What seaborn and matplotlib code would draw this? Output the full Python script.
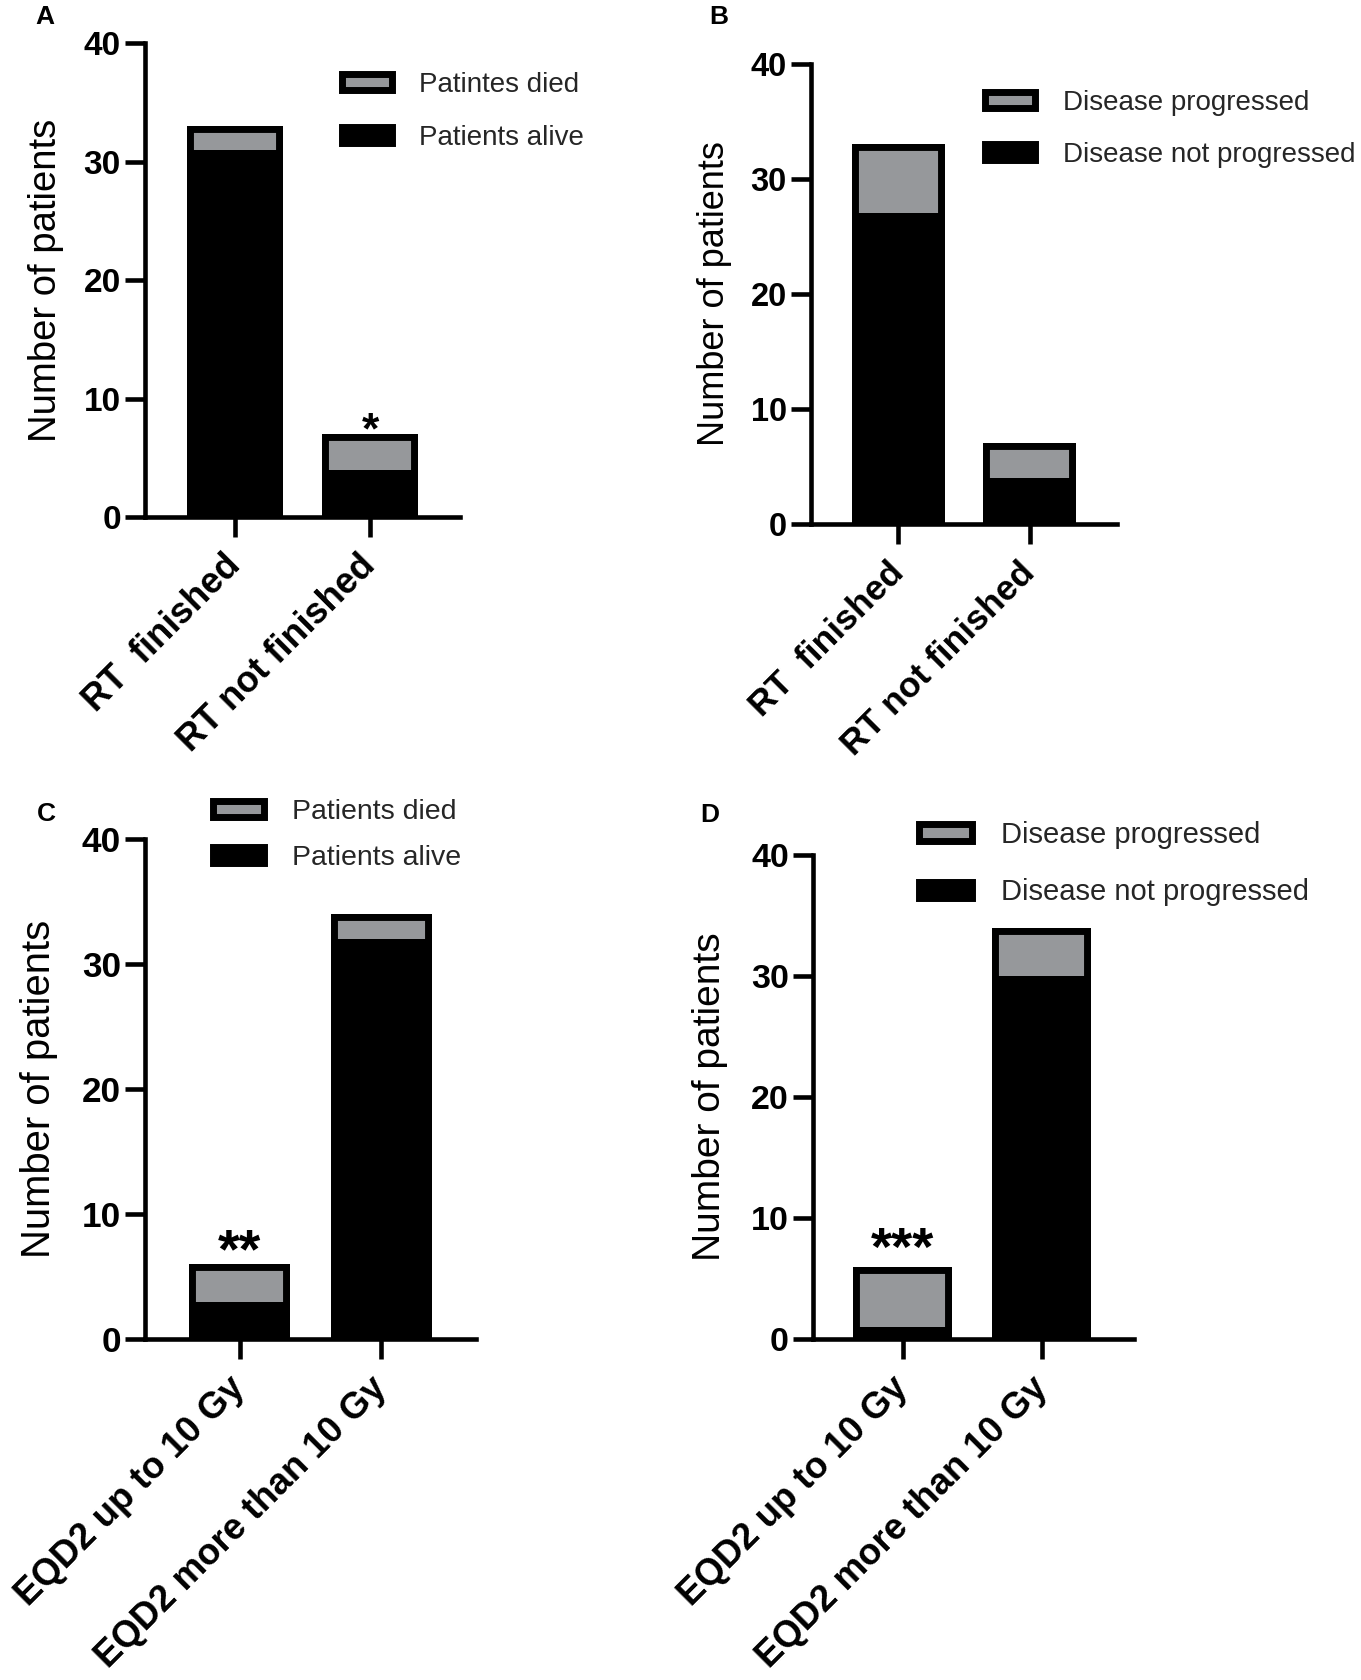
import matplotlib
matplotlib.use("Agg")
import matplotlib.pyplot as plt
from matplotlib.patches import Patch
import seaborn as sns

# ---------------- data ----------------
cats_rt = ["RT  finished", "RT not finished"]
cats_eqd2 = ["EQD2 up to 10 Gy", "EQD2 more than 10 Gy"]

a_total = [33, 7]
a_alive = [31, 4]
a_legend = ["Patintes died", "Patients alive"]
a_star = ["", "*"]

b_total = [33, 7]
b_not_prog = [27, 4]
b_legend = ["Disease progressed", "Disease not progressed"]
b_star = ["", ""]

c_total = [6, 34]
c_alive = [3, 32]
c_legend = ["Patients died", "Patients alive"]
c_star = ["**", ""]

d_total = [6, 34]
d_not_prog = [1, 30]
d_legend = ["Disease progressed", "Disease not progressed"]
d_star = ["***", ""]

y_ticks = [0, 10, 20, 30, 40]
y_label = "Number of patients"
panel_letters = ["A", "B", "C", "D"]

# ---------------- style ----------------
sns.set_theme(style="ticks")
plt.rcParams["font.family"] = ["Liberation Sans", "DejaVu Sans"]

GRAY = "#96989b"
W, H = 1361, 1680
BAR_LW = 10.0      # pt, clipped to inside -> ~7 px visible border
SPINE_LW = 3.3
BAR_W = 0.71

fig = plt.figure(figsize=(W / 100, H / 100), dpi=100)


def px_axes(left, right, top, bottom):
    return fig.add_axes([left / W, 1 - bottom / H, (right - left) / W, (bottom - top) / H])


def draw_panel(ax, cats, totals, lower, leg_labels, stars, s, xlim, xlab_fs, leg_xy, leg_fs,
               leg_spacing, ylab_fs, ylab_x, star_fs, star_off):
    sns.barplot(x=cats, y=totals, order=cats, color=GRAY, edgecolor="black",
                linewidth=BAR_LW, width=BAR_W, saturation=1, errorbar=None, ax=ax)
    sns.barplot(x=cats, y=lower, order=cats, color="black", edgecolor="black",
                linewidth=BAR_LW, width=BAR_W, saturation=1, errorbar=None, ax=ax)
    for p in ax.patches:
        p.set_clip_path(p)

    ax.set_xlim(*xlim)
    ax.set_ylim(0, 40)
    sns.despine(ax=ax)
    for side in ("left", "bottom"):
        ax.spines[side].set_linewidth(SPINE_LW)
        ax.spines[side].set_color("black")
        ax.spines[side].set_capstyle("projecting")

    ax.set_yticks(y_ticks)
    ax.set_yticklabels([str(t) for t in y_ticks], fontweight="bold", fontsize=24 * s)
    ax.set_xticks(range(len(cats)))
    ax.set_xticklabels(cats, fontweight="bold", fontsize=xlab_fs, rotation=45,
                       ha="right", va="center", rotation_mode="anchor")
    ax.tick_params(axis="both", direction="out", length=14.4, width=SPINE_LW,
                   color="black", labelcolor="black")
    ax.tick_params(axis="y", pad=3)
    ax.tick_params(axis="x", pad=17)
    ax.set_xlabel("")
    ax.set_ylabel(y_label, fontsize=ylab_fs, color="black")
    ax.yaxis.set_label_coords(ylab_x, 0.5)

    for i, st in enumerate(stars):
        if st:
            ax.annotate(st, xy=(i, totals[i]), xytext=(0, star_off), textcoords="offset points",
                        ha="center", va="baseline", fontsize=star_fs, fontweight="bold",
                        color="black")

    handles = [Patch(facecolor=GRAY, edgecolor="black", linewidth=5),
               Patch(facecolor="black", edgecolor="black", linewidth=5)]
    ax.legend(handles, leg_labels, loc="center left",
              bbox_to_anchor=(leg_xy[0] / W, 1 - leg_xy[1] / H),
              bbox_transform=fig.transFigure, frameon=False, fontsize=leg_fs,
              handlelength=1.8, handleheight=0.5, handletextpad=1.0,
              labelspacing=leg_spacing, borderpad=0, borderaxespad=0)


axA = px_axes(145, 460, 43.3, 517)
draw_panel(axA, cats_rt, a_total, a_alive, a_legend, a_star, 1.0, (-0.667, 1.667), 26,
           (341.5, 111.5), 20, 0.98, 27.5, -0.258, 32, -7)

axB = px_axes(811, 1117, 63.7, 524)
draw_panel(axB, cats_rt, b_total, b_not_prog, b_legend, b_star, 0.98, (-0.667, 1.667), 25.5,
           (985, 129), 20, 0.95, 26, -0.257, 36, -7)

axC = px_axes(145, 476, 839.4, 1339)
draw_panel(axC, cats_eqd2, c_total, c_alive, c_legend, c_star, 1.055, (-0.667, 1.667), 26.3,
           (212.5, 835), 20.5, 0.71, 28.8, -0.262, 40, -2)

axD = px_axes(813, 1134, 855, 1339.3)
draw_panel(axD, cats_eqd2, d_total, d_not_prog, d_legend, d_star, 1.02, (-0.645, 1.662), 26.3,
           (919, 863.7), 21, 1.01, 28, -0.264, 39, 1)

for letter, (x, y) in zip(panel_letters, [(35, 23.6), (709, 24), (37, 821), (700, 822)]):
    fig.text(x / W, 1 - y / H, letter, fontsize=19, fontweight="bold",
             ha="left", va="baseline", color="black")

fig.savefig("out.png", dpi=100, facecolor="white")
